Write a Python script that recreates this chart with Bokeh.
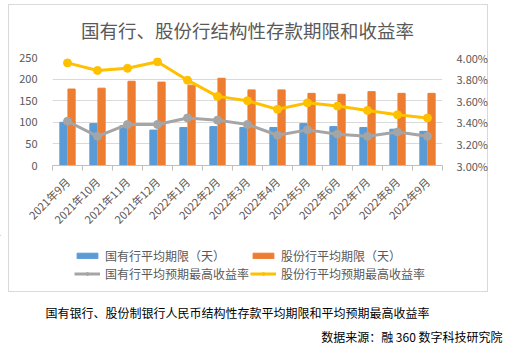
import math
from bokeh.plotting import figure
from bokeh.layouts import column
from bokeh.models import (Range1d, LinearAxis, FixedTicker, PrintfTickFormatter, Label,
                          Legend, LegendItem, ColumnDataSource)
from bokeh.transform import dodge
from bokeh.embed import file_html
from bokeh.resources import INLINE

months = ["2021年9月", "2021年10月", "2021年11月", "2021年12月", "2022年1月", "2022年2月",
          "2022年3月", "2022年4月", "2022年5月", "2022年6月", "2022年7月", "2022年8月", "2022年9月"]
state_term = [100, 97, 92, 82, 88, 90, 88, 88, 97, 90, 88, 84, 79]
joint_term = [177, 179, 195, 193, 186, 202, 175, 175, 167, 165, 171, 167, 167]
state_rate = [3.41, 3.27, 3.38, 3.38, 3.44, 3.42, 3.38, 3.28, 3.33, 3.29, 3.27, 3.31, 3.27]
joint_rate = [3.95, 3.88, 3.90, 3.96, 3.79, 3.64, 3.60, 3.52, 3.58, 3.55, 3.51, 3.47, 3.44]
left_ticks = [0, 50, 100, 150, 200, 250]
right_ticks = [3.0, 3.2, 3.4, 3.6, 3.8, 4.0]
series_names = ["国有行平均期限（天）", "股份行平均期限（天）", "国有行平均预期最高收益率", "股份行平均预期最高收益率"]
series_colors = ["#5b9bd5", "#ed7d31", "#a5a5a5", "#ffc000"]

FONT = "Noto Sans CJK SC"
GREY_TXT = "#595959"
BORDER = "#d9d9d9"
g = f"linear-gradient({BORDER},{BORDER})"

src = ColumnDataSource(dict(x=list(range(len(months))), st=state_term, jt=joint_term,
                            sr=state_rate, jr=joint_rate))

# ---------------- chart figure ----------------
p = figure(width=506, height=235, x_range=Range1d(-0.5, 12.5), y_range=Range1d(0, 250),
           output_backend="svg", toolbar_location=None,
           min_border_left=52, min_border_right=64, min_border_top=55, min_border_bottom=68)
p.frame_align = False
p.border_fill_color = None
p.background_fill_color = None
p.outline_line_color = None
p.styles = {"background": (f"{g} 8px 4px / 480px 1px no-repeat, "
                           f"{g} 8px 4px / 1px 231px no-repeat, {g} 487px 4px / 1px 231px no-repeat, #ffffff")}
p.extra_y_ranges = {"rate": Range1d(3.0, 4.0)}

p.title.text = "国有行、股份行结构性存款期限和收益率"
p.title.align = "center"
p.title.text_font = FONT
p.title.text_font_size = "18.5px"
p.title.text_font_style = "normal"
p.title.text_color = GREY_TXT
p.title.standoff = 29

xa = p.xaxis[0]
xa.ticker = FixedTicker(ticks=list(range(len(months))), minor_ticks=[i - 0.5 for i in range(len(months) + 1)])
xa.major_label_overrides = {i: m for i, m in enumerate(months)}
xa.major_label_orientation = math.pi / 4
xa.major_tick_line_color = None
xa.minor_tick_in = 0
xa.minor_tick_out = 5
xa.minor_tick_line_color = "#bfbfbf"
xa.axis_line_color = "#bfbfbf"
xa.major_label_text_font = FONT
xa.major_label_text_font_size = "11px"
xa.major_label_text_color = GREY_TXT
xa.major_label_standoff = 8

ya = p.yaxis[0]
ya.ticker = FixedTicker(ticks=left_ticks)
ya.axis_line_color = None
ya.major_tick_line_color = None
ya.minor_tick_line_color = None
ya.major_label_text_font = FONT
ya.major_label_text_font_size = "11px"
ya.major_label_text_color = GREY_TXT
ya.major_label_standoff = 9

ra = LinearAxis(y_range_name="rate", ticker=FixedTicker(ticks=right_ticks),
                formatter=PrintfTickFormatter(format="%.2f%%"))
ra.axis_line_color = None
ra.major_tick_line_color = None
ra.minor_tick_line_color = None
ra.major_label_text_font = FONT
ra.major_label_text_font_size = "11px"
ra.major_label_text_color = GREY_TXT
ra.major_label_standoff = 8
p.add_layout(ra, "right")

p.xgrid.visible = False
p.ygrid.grid_line_color = BORDER
p.ygrid.ticker = FixedTicker(ticks=left_ticks)

p.vbar(x=dodge("x", -0.135), top="st", width=0.24, source=src, color=series_colors[0])
p.vbar(x=dodge("x", 0.135), top="jt", width=0.24, source=src, color=series_colors[1])
p.line("x", "sr", source=src, y_range_name="rate", line_width=3, color=series_colors[2])
p.scatter("x", "sr", source=src, y_range_name="rate", size=8, color=series_colors[2])
p.line("x", "jr", source=src, y_range_name="rate", line_width=3, color=series_colors[3])
p.scatter("x", "jr", source=src, y_range_name="rate", size=8, color=series_colors[3])

# ---------------- legend + caption figure ----------------
q = figure(width=506, height=112, x_range=Range1d(0, 506), y_range=Range1d(112, 0),
           x_axis_type=None, y_axis_type=None, output_backend="svg", toolbar_location=None,
           min_border=0)
q.frame_align = False
q.border_fill_color = None
q.background_fill_color = None
q.outline_line_color = None
q.grid.visible = False
q.styles = {"background": (f"{g} 8px 0px / 1px 57px no-repeat, {g} 487px 0px / 1px 57px no-repeat, "
                           f"{g} 8px 56px / 480px 1px no-repeat, #ffffff")}

# legend proxies (kept outside the visible range of this panel)
proxy = ColumnDataSource(dict(x=[-1000], y=[-1000]))
lr1 = q.vbar(x="x", top="y", width=1, source=proxy, color=series_colors[0])
lr2 = q.vbar(x="x", top="y", width=1, source=proxy, color=series_colors[1])
lr3a = q.line("x", "y", source=proxy, line_width=3, color=series_colors[2])
lr3b = q.scatter("x", "y", source=proxy, size=7, color=series_colors[2])
lr4a = q.line("x", "y", source=proxy, line_width=3, color=series_colors[3])
lr4b = q.scatter("x", "y", source=proxy, size=7, color=series_colors[3])

legend = Legend(items=[
    LegendItem(label=series_names[0], renderers=[lr1]),
    LegendItem(label=series_names[1], renderers=[lr2]),
    LegendItem(label=series_names[2], renderers=[lr3a, lr3b]),
    LegendItem(label=series_names[3], renderers=[lr4a, lr4b]),
], orientation="horizontal", ncols=2, location=(74, 65))
legend.border_line_color = None
legend.background_fill_alpha = 0
legend.padding = 0
legend.margin = 0
legend.spacing = 1
legend.label_standoff = 5
legend.glyph_width = 26
legend.glyph_height = 7
legend.label_height = 16
legend.label_text_font = FONT
legend.label_text_font_size = "12px"
legend.label_text_color = GREY_TXT
q.add_layout(legend)

q.add_layout(Label(x=45, y=77, text="国有银行、股份制银行人民币结构性存款平均期限和平均预期最高收益率",
                   text_align="left", text_baseline="middle", text_font=FONT,
                   text_font_size="12px", text_color="#000000"))
q.add_layout(Label(x=502, y=101, text="数据来源：融 360 数字科技研究院",
                   text_align="right", text_baseline="middle", text_font=FONT,
                   text_font_size="12px", text_color="#000000"))

layout = column(p, q, spacing=0)
open("out.html", "w").write(file_html(layout, INLINE))
